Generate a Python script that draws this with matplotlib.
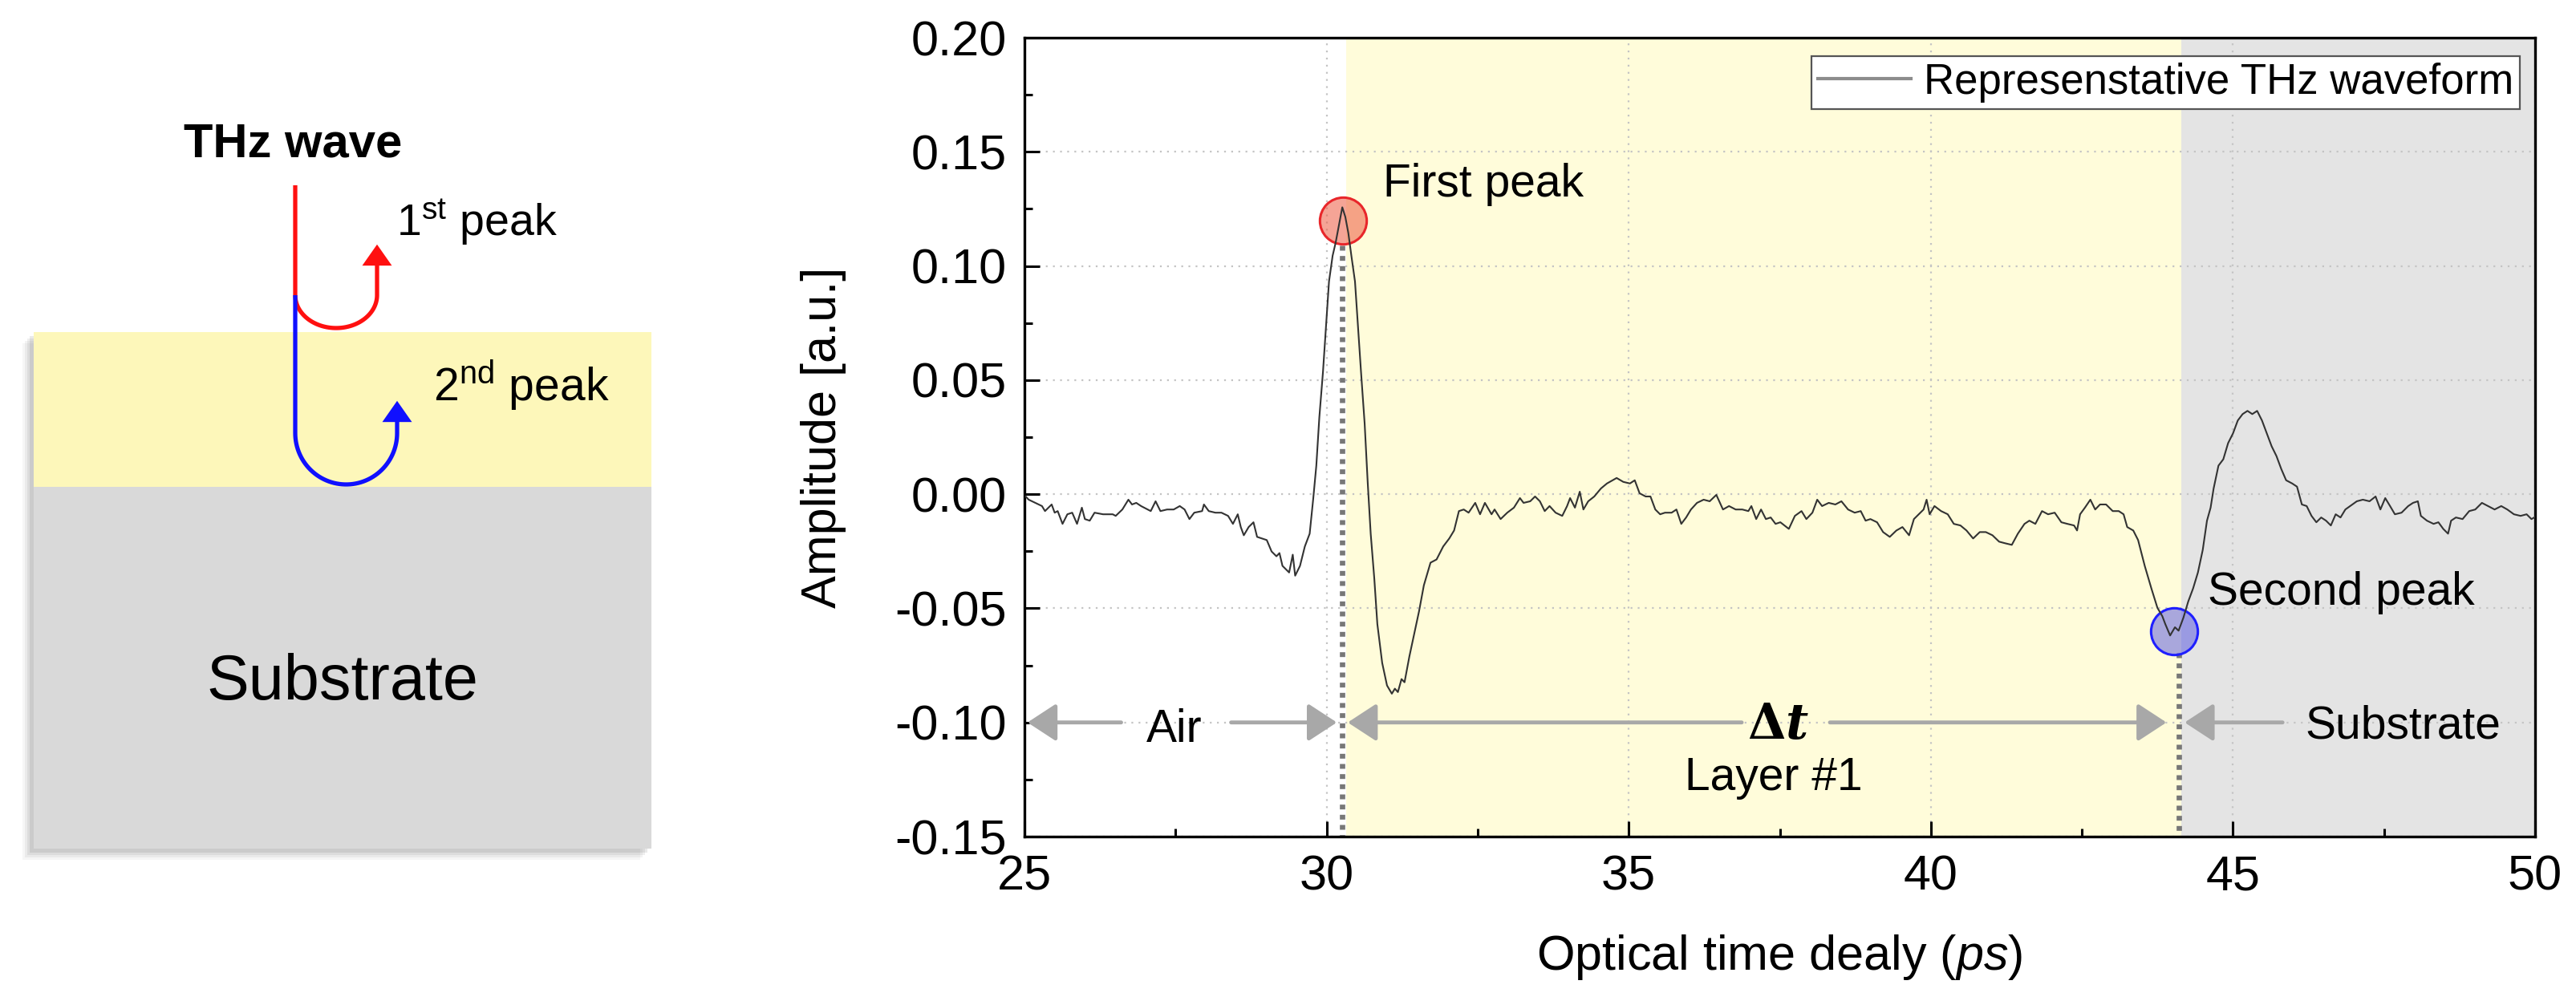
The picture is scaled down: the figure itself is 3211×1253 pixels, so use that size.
import numpy as np
import matplotlib.pyplot as plt
from matplotlib.lines import Line2D
from matplotlib.patches import Rectangle, FancyArrowPatch

plt.rcParams['font.family'] = ['Liberation Sans', 'DejaVu Sans']
plt.rcParams['mathtext.fontset'] = 'custom'
plt.rcParams['mathtext.rm'] = 'Liberation Sans'
plt.rcParams['mathtext.it'] = 'Liberation Sans:italic'
plt.rcParams['mathtext.bf'] = 'Liberation Sans:bold'
plt.rcParams['axes.unicode_minus'] = False

# waveform (ps, a.u.)
time_ps = [
    25.02, 25.07, 25.18, 25.29, 25.34, 25.45, 25.50, 25.55, 25.63, 25.71, 25.79, 25.87, 25.95, 26.00,
    26.08, 26.16, 26.30, 26.46, 26.51, 26.62, 26.72, 26.78, 26.85, 26.93, 27.04, 27.09, 27.17, 27.25,
    27.36, 27.47, 27.57, 27.65, 27.73, 27.81, 27.94, 27.97, 28.05, 28.16, 28.26, 28.37, 28.45, 28.53,
    28.58, 28.63, 28.71, 28.79, 28.85, 28.93, 29.01, 29.09, 29.17, 29.22, 29.27, 29.38, 29.44, 29.48,
    29.56, 29.64, 29.72, 29.78, 29.83, 29.88, 29.94, 29.99, 30.04, 30.10, 30.15, 30.20, 30.26, 30.31,
    30.36, 30.41, 30.47, 30.52, 30.57, 30.63, 30.68, 30.73, 30.79, 30.84, 30.92, 31.00, 31.08, 31.13,
    31.18, 31.24, 31.29, 31.37, 31.45, 31.53, 31.61, 31.72, 31.82, 31.93, 32.03, 32.11, 32.19, 32.27,
    32.35, 32.46, 32.54, 32.62, 32.73, 32.78, 32.88, 32.99, 33.10, 33.20,
    33.26, 33.37, 33.45, 33.53, 33.61, 33.69, 33.79, 33.90, 33.98, 34.03, 34.11, 34.19, 34.25, 34.33,
    34.43, 34.54, 34.64, 34.80, 34.91, 35.02, 35.10, 35.18, 35.28, 35.36, 35.44, 35.52, 35.60, 35.71,
    35.79, 35.87, 35.95, 36.03, 36.13, 36.24, 36.34, 36.45, 36.56, 36.66, 36.77, 36.88, 36.98, 37.03,
    37.11, 37.19, 37.27, 37.35, 37.43, 37.51, 37.65, 37.75, 37.86, 37.94, 38.04, 38.12, 38.20, 38.31,
    38.42, 38.52, 38.63, 38.74, 38.84, 38.92, 39.00, 39.11, 39.21, 39.32, 39.43, 39.53, 39.64, 39.72,
    39.80, 39.88, 39.93, 39.98, 40.06, 40.17, 40.28, 40.38, 40.49, 40.59, 40.70, 40.81, 40.91, 41.02,
    41.13, 41.23, 41.34, 41.44, 41.55,
    41.63, 41.73, 41.84, 41.94, 42.05, 42.16, 42.26, 42.37, 42.42, 42.47, 42.55, 42.64, 42.72, 42.80,
    42.90, 43.01, 43.11, 43.19, 43.25, 43.35, 43.43, 43.54, 43.65, 43.75, 43.83, 43.88, 43.96, 44.04,
    44.10, 44.18, 44.26, 44.34, 44.42, 44.50, 44.57, 44.63, 44.68, 44.76, 44.84, 44.92, 45.00, 45.08,
    45.16, 45.24, 45.32, 45.40, 45.48, 45.56, 45.64, 45.72, 45.80, 45.88, 45.98, 46.06, 46.14, 46.22,
    46.30, 46.38, 46.46, 46.54, 46.62, 46.70, 46.78, 46.86, 46.94, 47.05, 47.15, 47.26, 47.36, 47.44,
    47.52, 47.60, 47.68, 47.79, 47.90, 47.98, 48.06, 48.11, 48.21, 48.32, 48.40, 48.48, 48.56, 48.61,
    48.69, 48.80, 48.91, 49.01, 49.12, 49.22, 49.33, 49.44, 49.54, 49.65, 49.76, 49.86, 49.94, 50.00,
]
amplitude = [
    -0.0010, -0.0024, -0.0038, -0.0052, -0.0074, -0.0045, -0.0081, -0.0074, -0.0130, -0.0088, -0.0081, -0.0130, -0.0059, -0.0109,
    -0.0116, -0.0081, -0.0088, -0.0088, -0.0095, -0.0067, -0.0024, -0.0045, -0.0038, -0.0052, -0.0067, -0.0074, -0.0031, -0.0074,
    -0.0067, -0.0067, -0.0052, -0.0067, -0.0109, -0.0081, -0.0074, -0.0045, -0.0074, -0.0081, -0.0081, -0.0095, -0.0130, -0.0088,
    -0.0144, -0.0180, -0.0144, -0.0123, -0.0187, -0.0194, -0.0201, -0.0251, -0.0272, -0.0258, -0.0314, -0.0343, -0.0265, -0.0357,
    -0.0314, -0.0229, -0.0173, -0.0017, 0.0125, 0.0337, 0.0535, 0.0733, 0.0932, 0.1045, 0.1102, 0.1172, 0.1257, 0.1215,
    0.1144, 0.1045, 0.0932, 0.0733, 0.0535, 0.0309, 0.0054, -0.0173, -0.0371, -0.0569, -0.0739, -0.0838, -0.0874, -0.0852,
    -0.0867, -0.0810, -0.0824, -0.0711, -0.0612, -0.0513, -0.0399, -0.0300, -0.0286, -0.0229, -0.0194, -0.0159, -0.0074, -0.0067,
    -0.0081, -0.0038, -0.0088, -0.0038, -0.0088, -0.0067, -0.0109, -0.0081, -0.0059, -0.0017,
    -0.0038, -0.0031, -0.0010, -0.0031, -0.0074, -0.0052, -0.0081, -0.0095, -0.0052, -0.0017, -0.0059, 0.0011, -0.0067, -0.0031,
    -0.0010, 0.0025, 0.0047, 0.0071, 0.0054, 0.0047, 0.0061, 0.0004, -0.0010, -0.0010, -0.0067, -0.0088, -0.0081, -0.0081,
    -0.0067, -0.0130, -0.0102, -0.0067, -0.0038, -0.0024, -0.0031, -0.0003, -0.0067, -0.0052, -0.0067, -0.0067, -0.0074, -0.0052,
    -0.0109, -0.0067, -0.0109, -0.0102, -0.0130, -0.0123, -0.0152, -0.0095, -0.0074, -0.0109, -0.0081, -0.0024, -0.0052, -0.0038,
    -0.0045, -0.0031, -0.0067, -0.0081, -0.0074, -0.0116, -0.0109, -0.0123, -0.0166, -0.0187, -0.0159, -0.0144, -0.0180, -0.0109,
    -0.0088, -0.0067, -0.0024, -0.0088, -0.0052, -0.0074, -0.0088, -0.0130, -0.0137, -0.0159, -0.0194, -0.0166, -0.0166, -0.0180,
    -0.0208, -0.0215, -0.0222, -0.0173, -0.0130,
    -0.0116, -0.0130, -0.0074, -0.0088, -0.0081, -0.0123, -0.0130, -0.0137, -0.0159, -0.0088, -0.0059, -0.0024, -0.0067, -0.0045,
    -0.0045, -0.0074, -0.0074, -0.0088, -0.0144, -0.0159, -0.0201, -0.0314, -0.0413, -0.0498, -0.0534, -0.0569, -0.0619, -0.0583,
    -0.0598, -0.0541, -0.0470, -0.0413, -0.0343, -0.0244, -0.0116, -0.0059, 0.0025, 0.0125, 0.0153, 0.0224, 0.0266, 0.0323,
    0.0351, 0.0365, 0.0351, 0.0365, 0.0323, 0.0266, 0.0210, 0.0167, 0.0110, 0.0061, 0.0047, 0.0033, -0.0045, -0.0052,
    -0.0095, -0.0123, -0.0102, -0.0116, -0.0137, -0.0088, -0.0102, -0.0067, -0.0052, -0.0031, -0.0024, -0.0031, -0.0010, -0.0067,
    -0.0017, -0.0052, -0.0088, -0.0081, -0.0052, -0.0038, -0.0031, -0.0095, -0.0116, -0.0130, -0.0123, -0.0152, -0.0173, -0.0116,
    -0.0102, -0.0109, -0.0074, -0.0067, -0.0038, -0.0052, -0.0067, -0.0052, -0.0067, -0.0088, -0.0095, -0.0088, -0.0109, -0.0100,
]

x_ticks = [25, 30, 35, 40, 45, 50]
y_ticks = [-0.15, -0.10, -0.05, 0.00, 0.05, 0.10, 0.15, 0.20]
y_tick_labels = ['-0.15', '-0.10', '-0.05', '0.00', '0.05', '0.10', '0.15', '0.20']

first_peak = (30.27, 0.120)
second_peak = (44.03, -0.060)
first_line_x = 30.255
second_line_x = 44.11
layer_start = 30.32
layer_end = 44.15
arrow_y = -0.10
# (tail, tip) of the gray arrows along y = arrow_y
arrows = [(26.60, 25.05), (28.42, 30.17), (36.87, 30.35), (38.33, 43.90), (45.82, 44.20)]

W, H = 3211, 1253
fig = plt.figure(figsize=(W / 100, H / 100), dpi=100)

# ---- left schematic, drawn in pixel coordinates ----
sk = fig.add_axes([0, 0, 1, 1])
sk.set_xlim(0, W)
sk.set_ylim(H, 0)
sk.axis('off')

bx, by, bw = 42, 414, 770
for i, a in enumerate([0.06, 0.08, 0.10, 0.14]):
    off = 14 - 3 * i
    sk.add_patch(Rectangle((bx - off, by + off), bw, 644, color='0.4', alpha=a, lw=0))
sk.add_patch(Rectangle((bx, by), bw, 193, facecolor='#FDF7BA', lw=0))
sk.add_patch(Rectangle((bx, by + 193), bw, 451, facecolor='#D9D9D9', lw=0))


def u_turn(xl, xr, ytop, depth, n=60):
    t = np.linspace(0, np.pi, n)
    cx, rx = (xl + xr) / 2, (xr - xl) / 2
    return cx - rx * np.cos(t), ytop + depth * np.sin(t)


ux, uy = u_turn(368, 470, 368, 41)
sk.plot(np.r_[368, 368, ux, 470], np.r_[231, 368, uy, 325], color='#FF1010', lw=3.8,
        solid_capstyle='butt')
sk.add_patch(FancyArrowPatch((470, 334), (470, 302), arrowstyle='-|>,head_length=1.0,head_width=0.7',
                             mutation_scale=19, color='#FF1010', lw=0))
ux, uy = u_turn(368, 495, 540, 64)
sk.plot(np.r_[368, 368, ux, 495], np.r_[368, 540, uy, 522], color='#1010FF', lw=3.8,
        solid_capstyle='butt')
sk.add_patch(FancyArrowPatch((495, 530), (495, 497), arrowstyle='-|>,head_length=1.0,head_width=0.7',
                             mutation_scale=19, color='#1010FF', lw=0))

sk.text(365, 196, 'THz wave', fontsize=43, fontweight='bold', ha='center', va='baseline')
sk.text(494, 295, r'1$^{\rm st}$ peak', fontsize=40, ha='left', va='baseline')
sk.text(540, 499, r'2$^{\rm nd}$ peak', fontsize=41, ha='left', va='baseline')
sk.text(427, 872, 'Substrate', fontsize=57, ha='center', va='baseline')

# ---- waveform plot ----
ax = fig.add_axes([1277 / W, 1 - 1043 / H, 1883 / W, 996 / H])
ax.set_xlim(25, 50)
ax.set_ylim(-0.15, 0.20)
ax.axvspan(layer_start, layer_end, color='#FFFCDA', lw=0, zorder=0.1)
ax.axvspan(layer_end, 50, color='#E4E4E4', lw=0, zorder=0.1)
ax.set_axisbelow(True)
ax.grid(True, which='major', color='#C4C4C4', ls=(0, (1, 3)), lw=1.6)

ax.plot([first_line_x, first_line_x], [first_peak[1] - 0.011, -0.15], color='#777777', lw=4.8,
        ls=(0, (0.9, 1.0)), zorder=2)
ax.plot([second_line_x, second_line_x], [second_peak[1] - 0.0095, -0.15], color='#777777', lw=4.8,
        ls=(0, (0.9, 1.0)), zorder=2)

ax.plot(*first_peak, 'o', ms=42, mfc=(0.93, 0.35, 0.25, 0.55), mec='#E8262A', mew=2.2, zorder=2.5)
ax.plot(*second_peak, 'o', ms=42, mfc=(0.25, 0.25, 0.88, 0.45), mec='#1F1FFF', mew=2.2, zorder=2.5)

ax.plot(time_ps, amplitude, color='#333333', lw=1.5, zorder=3)

for tail, tip in arrows:
    ax.annotate('', xy=(tip, arrow_y), xytext=(tail, arrow_y),
                arrowprops=dict(arrowstyle='-|>,head_length=1.1,head_width=0.72', mutation_scale=20,
                                color='#A8A8A8', lw=3.5, shrinkA=0, shrinkB=0), zorder=2)

ax.text(27.48, -0.1085, 'Air', fontsize=41, ha='center', va='baseline')
ax.text(47.82, -0.1070, 'Substrate', fontsize=41, ha='center', va='baseline')
ax.text(37.47, -0.1070, r'$\mathbf{\Delta}\mathbfit{t}$', fontsize=44, ha='center', va='baseline',
        math_fontfamily='dejavuserif')
ax.text(37.40, -0.1296, 'Layer #1', fontsize=41, ha='center', va='baseline')
ax.text(30.93, 0.1304, 'First peak', fontsize=41, ha='left', va='baseline')
ax.text(44.58, -0.0484, 'Second peak', fontsize=41, ha='left', va='baseline')

ax.set_xticks(x_ticks)
ax.set_xticks(np.arange(25, 50.1, 2.5), minor=True)
ax.set_yticks(y_ticks)
ax.set_yticklabels(y_tick_labels)
ax.set_yticks(np.arange(-0.15, 0.201, 0.025), minor=True)
ax.tick_params(which='both', direction='in', top=False, right=False, width=2.2, labelsize=44, pad=16)
ax.tick_params(which='major', length=14)
ax.tick_params(which='minor', length=7)
for s in ax.spines.values():
    s.set_linewidth(2.4)

ax.set_xlabel(r'Optical time dealy ($\mathit{ps}$)', fontsize=44)
ax.set_ylabel('Amplitude [a.u.]', fontsize=44)
ax.xaxis.set_label_coords(0.5, -0.12)
ax.yaxis.set_label_coords(-0.118, 0.5)

leg = ax.legend([Line2D([], [], color='#8C8C8C', lw=3)], ['Represenstative THz waveform'],
                loc='upper right', bbox_to_anchor=(0.990, 0.977), borderaxespad=0, fontsize=38,
                fancybox=False, framealpha=1, edgecolor='#555555', handlelength=2.2,
                handletextpad=0.3, borderpad=0.15)
leg.get_frame().set_linewidth(1.6)

fig.savefig('out.png', dpi=100)
